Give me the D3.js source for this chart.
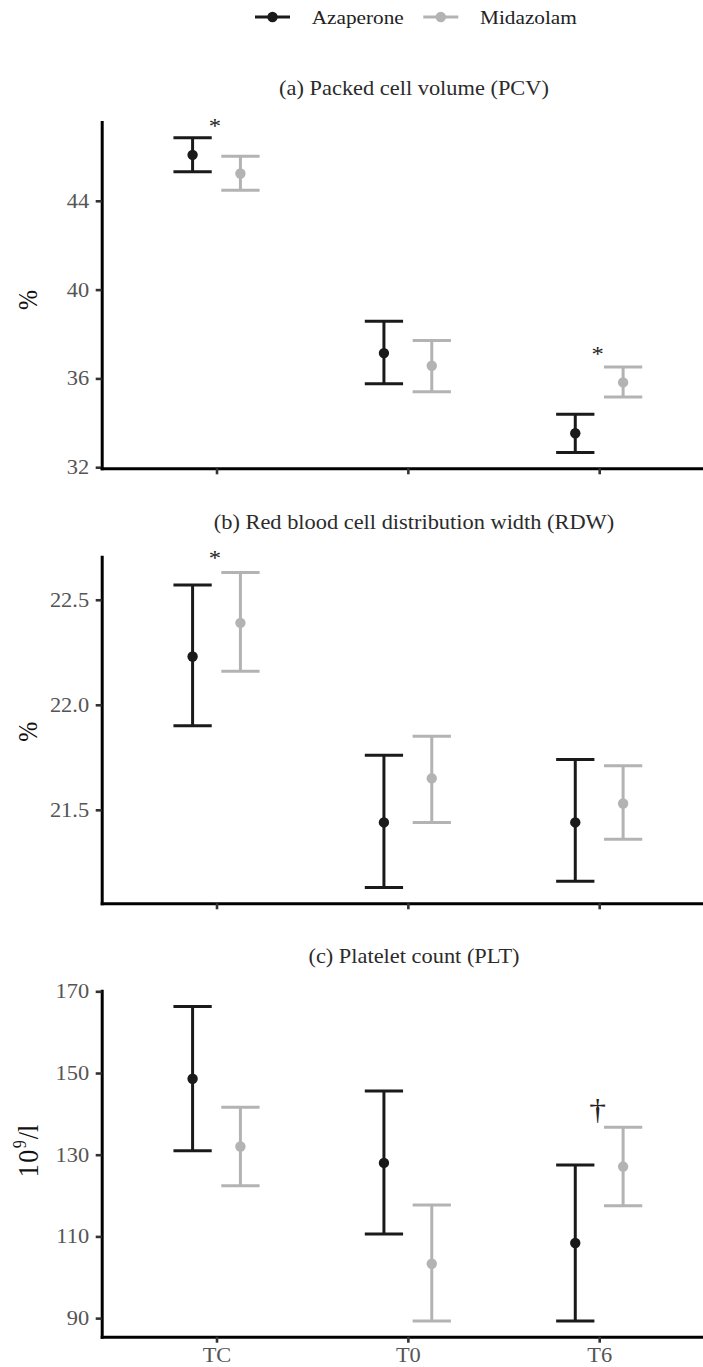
<!DOCTYPE html>
<html>
<head>
<meta charset="utf-8">
<script src="https://cdn.jsdelivr.net/npm/d3@7"></script>
<style>
  body { margin: 0; background: #fff; }
  svg { display: block; }
</style>
</head>
<body>
<svg id="chart" width="703" height="1367"></svg>
<script>
// categories and groups
const categories = ["TC", "T0", "T6"];
const groups = ["Azaperone", "Midazolam"];
const groupColors = ["#1a1a1a", "#b3b3b3"];

// (a) packed cell volume, %  -> [Azaperone], [Midazolam]
const pcvMean  = [[46.07, 37.14, 33.53], [45.23, 36.57, 35.82]];
const pcvLower = [[45.31, 35.76, 32.66], [44.48, 35.40, 35.16]];
const pcvUpper = [[46.84, 38.57, 34.39], [46.01, 37.71, 36.51]];
const pcvTicks = [32, 36, 40, 44];
const pcvMarks = [["TC", "*", 47.54], ["T6", "*", 37.26]];

// (b) red blood cell distribution width, %
const rdwMean  = [[22.23, 21.44, 21.44], [22.39, 21.65, 21.53]];
const rdwLower = [[21.90, 21.13, 21.16], [22.16, 21.44, 21.36]];
const rdwUpper = [[22.57, 21.76, 21.74], [22.63, 21.85, 21.71]];
const rdwTicks = [21.5, 22.0, 22.5];
const rdwMarks = [["TC", "*", 22.72]];

// (c) platelet count, 10^9/l
const pltMean  = [[148.6, 128.0, 108.4], [132.0, 103.3, 127.1]];
const pltLower = [[131.0, 110.6, 89.3], [122.4, 89.3, 117.5]];
const pltUpper = [[166.3, 145.6, 127.5], [141.6, 117.7, 136.7]];
const pltTicks = [90, 110, 130, 150, 170];
const pltMarks = [["T6", "\u2020", 140.6]];

// layout
const FONT = "'Liberation Serif', 'Times New Roman', serif";
const SX = 1.12; // the original text is a bit wider than plain Times
const plotLeft = 101.7, plotRight = 714;
const svg = d3.select("#chart");

const x = d3.scalePoint().domain(categories).range([plotLeft, plotRight]).padding(0.6);
const dodge = x.step() * 0.125;
const capHalf = x.step() * 0.1;

const panels = [
    { title: "(a) Packed cell volume (PCV)", top: 122, bottom: 468.3, mean: pcvMean, lower: pcvLower, upper: pcvUpper,
      ticks: pcvTicks, fmt: d3.format("d"), marks: pcvMarks, label: "%", labelY: 300, xLabels: false },
    { title: "(b) Red blood cell distribution width (RDW)", top: 556.7, bottom: 903.3, mean: rdwMean, lower: rdwLower, upper: rdwUpper,
      ticks: rdwTicks, fmt: d3.format(".1f"), marks: rdwMarks, label: "%", labelY: 731.7, xLabels: false },
    { title: "(c) Platelet count (PLT)", top: 990.7, bottom: 1336.7, mean: pltMean, lower: pltLower, upper: pltUpper,
      ticks: pltTicks, fmt: d3.format("d"), marks: pltMarks, label: "10^9/l", labelY: 1151, xLabels: true }
];

function stretchedText(parent, px, py, str, size, fill, anchor, rotate) {
    return parent.append("text")
        .attr("transform", "translate(" + px + "," + py + ") scale(" + SX + ",1)" + (rotate ? " rotate(-90)" : ""))
        .attr("text-anchor", anchor)
        .attr("font-family", FONT)
        .attr("font-size", size)
        .attr("fill", fill)
        .text(str);
}

function drawPanel(p) {
    // y domain from the data, with ggplot's 5% expansion
    const lo = d3.min(p.lower.flat()), hi = d3.max(p.upper.flat());
    const pad = (hi - lo) * 0.05;
    const y = d3.scaleLinear().domain([lo - pad, hi + pad]).range([p.bottom, p.top]);

    // title
    stretchedText(svg, 414, p.top - 34 + 6.6, p.title, 20, "#2b2b2b", "middle");

    // y axis
    const gy = svg.append("g")
        .attr("transform", "translate(" + plotLeft + ",0)")
        .call(d3.axisLeft(y).tickValues(p.ticks).tickFormat(p.fmt).tickSize(6).tickSizeOuter(0));
    gy.select(".domain").attr("stroke", "#000").attr("stroke-width", 3).attr("stroke-linecap", "square");
    gy.selectAll(".tick line").attr("stroke", "#333").attr("stroke-width", 2.6);
    gy.selectAll(".tick text")
        .attr("transform", "scale(" + SX + ",1)")
        .attr("x", -12.6 / SX)
        .attr("font-family", FONT).attr("font-size", 20).attr("fill", "#555");

    // x axis
    const gx = svg.append("g")
        .attr("transform", "translate(0," + p.bottom + ")")
        .call(d3.axisBottom(x).tickSize(6).tickSizeOuter(0).tickPadding(4.8)
            .tickFormat(p.xLabels ? (d) => d : () => ""));
    gx.select(".domain").attr("stroke", "#000").attr("stroke-width", 3).attr("stroke-linecap", "square");
    gx.selectAll(".tick line").attr("stroke", "#333").attr("stroke-width", 2.6);
    gx.selectAll(".tick text")
        .attr("transform", "scale(" + SX + ",1)")
        .attr("font-family", FONT).attr("font-size", 20).attr("fill", "#555");

    // y axis title
    if (p.label === "%") {
        stretchedText(svg, 36.5, p.labelY, "%", 24, "#111", "middle", true);
    } else {
        const t = stretchedText(svg, 38, p.labelY, "", 26, "#111", "middle", true);
        t.append("tspan").attr("letter-spacing", 1.5).text("10");
        t.append("tspan").attr("font-size", 16).attr("dy", -11).text("9");
        t.append("tspan").attr("dy", 11).attr("dx", 1).text("/l");
    }

    // error bars and means
    groups.forEach((g, gi) => {
        const rows = categories.map((c, i) => ({
            cat: c, mean: p.mean[gi][i], lower: p.lower[gi][i], upper: p.upper[gi][i]
        }));
        const cx = (d) => x(d.cat) + (gi === 0 ? -dodge : dodge);
        const layer = svg.append("g").attr("class", "series-" + g);

        layer.selectAll("line.stem").data(rows).enter().append("line")
            .attr("x1", cx).attr("x2", cx)
            .attr("y1", (d) => y(d.lower)).attr("y2", (d) => y(d.upper))
            .attr("stroke", groupColors[gi]).attr("stroke-width", 3);
        layer.selectAll("line.capTop").data(rows).enter().append("line")
            .attr("x1", (d) => cx(d) - capHalf).attr("x2", (d) => cx(d) + capHalf)
            .attr("y1", (d) => y(d.upper)).attr("y2", (d) => y(d.upper))
            .attr("stroke", groupColors[gi]).attr("stroke-width", 3);
        layer.selectAll("line.capBottom").data(rows).enter().append("line")
            .attr("x1", (d) => cx(d) - capHalf).attr("x2", (d) => cx(d) + capHalf)
            .attr("y1", (d) => y(d.lower)).attr("y2", (d) => y(d.lower))
            .attr("stroke", groupColors[gi]).attr("stroke-width", 3);
        layer.selectAll("circle").data(rows).enter().append("circle")
            .attr("cx", cx).attr("cy", (d) => y(d.mean)).attr("r", 5.2)
            .attr("fill", groupColors[gi]);
    });

    // significance marks
    p.marks.forEach((m) => {
        const size = m[1] === "*" ? 22 : 30;
        const dy = m[1] === "*" ? 0.5 * size : 0.25 * size;
        stretchedText(svg, x(m[0]) - 1.5, y(m[2]) + dy, m[1], size, "#222", "middle");
    });
}

panels.forEach(drawPanel);

// legend
const legendItems = [
    { name: groups[0], color: groupColors[0], x0: 255, tx: 311.7 },
    { name: groups[1], color: groupColors[1], x0: 423.3, tx: 480 }
];
legendItems.forEach((it) => {
    svg.append("line").attr("x1", it.x0).attr("x2", it.x0 + 35).attr("y1", 17).attr("y2", 17)
        .attr("stroke", it.color).attr("stroke-width", 3);
    svg.append("circle").attr("cx", it.x0 + 17.5).attr("cy", 17).attr("r", 5.2).attr("fill", it.color);
    stretchedText(svg, it.tx, 23.6, it.name, 19, "#222", "start");
});
</script>
</body>
</html>
